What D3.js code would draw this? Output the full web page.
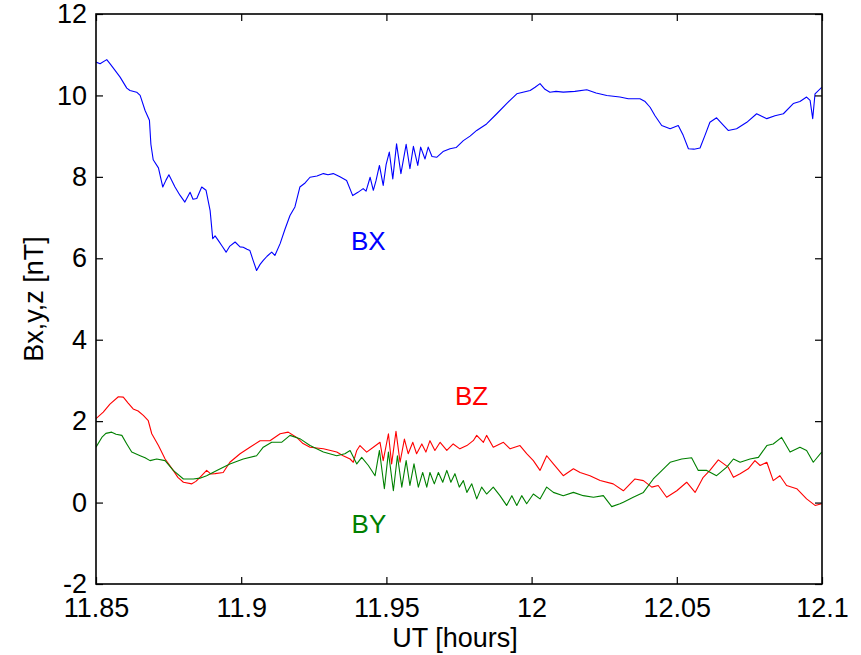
<!DOCTYPE html>
<html>
<head>
<meta charset="utf-8">
<script src="https://cdn.jsdelivr.net/npm/d3@7"></script>
<style>
html,body{margin:0;padding:0;background:#fff;}
svg{display:block;}
text{font-family:"Liberation Sans",Arial,Helvetica,sans-serif;}
</style>
</head>
<body>
<svg id="chart" width="861" height="655"></svg>
<script>
// ---- data (UT hours, nT) ----
const bxTime = [11.8500,11.8514,11.8537,11.8548,11.8565,11.8583,11.8606,11.8617,11.8640,11.8652,11.8669,11.8684,11.8689,11.8697,11.8715,11.8730,11.8741,11.8751,11.8772,11.8789,11.8806,11.8824,11.8834,11.8847,11.8864,11.8879,11.8893,11.8902,11.8910,11.8921,11.8934,11.8948,11.8961,11.8979,11.8996,11.9007,11.9020,11.9030,11.9041,11.9053,11.9065,11.9076,11.9089,11.9105,11.9116,11.9134,11.9151,11.9168,11.9185,11.9202,11.9220,11.9237,11.9261,11.9283,11.9299,11.9317,11.9340,11.9363,11.9384,11.9402,11.9420,11.9430,11.9444,11.9455,11.9464,11.9476,11.9489,11.9499,11.9510,11.9522,11.9535,11.9550,11.9568,11.9581,11.9593,11.9608,11.9618,11.9633,11.9644,11.9657,11.9673,11.9695,11.9719,11.9740,11.9765,11.9788,11.9811,11.9845,11.9880,11.9914,11.9949,11.9970,11.9995,12.0012,12.0029,12.0046,12.0063,12.0084,12.0109,12.0149,12.0190,12.0222,12.0259,12.0304,12.0333,12.0373,12.0391,12.0408,12.0425,12.0448,12.0477,12.0505,12.0522,12.0540,12.0559,12.0580,12.0597,12.0614,12.0637,12.0656,12.0677,12.0706,12.0741,12.0775,12.0810,12.0838,12.0867,12.0901,12.0924,12.0947,12.0959,12.0968,12.0976,12.0999];
const bxValues = [10.82,10.78,10.88,10.78,10.62,10.45,10.18,10.12,10.08,10.00,9.63,9.39,8.80,8.42,8.22,7.75,7.92,8.05,7.75,7.55,7.38,7.62,7.45,7.47,7.75,7.67,7.17,6.48,6.55,6.44,6.30,6.15,6.30,6.40,6.28,6.27,6.22,6.19,5.95,5.70,5.85,5.95,6.05,6.15,6.07,6.36,6.72,7.05,7.26,7.75,7.85,7.99,8.02,8.08,8.05,8.08,8.00,7.91,7.54,7.62,7.71,7.65,7.99,7.67,7.90,8.28,7.79,8.30,8.61,7.95,8.81,8.08,8.80,8.20,8.75,8.28,8.73,8.44,8.73,8.50,8.48,8.62,8.69,8.72,8.89,9.00,9.14,9.30,9.55,9.80,10.04,10.08,10.12,10.20,10.29,10.15,10.08,10.10,10.08,10.10,10.14,10.06,10.00,9.96,9.92,9.92,9.85,9.71,9.50,9.26,9.18,9.26,9.02,8.69,8.68,8.71,9.02,9.34,9.45,9.30,9.14,9.18,9.34,9.55,9.43,9.50,9.55,9.80,9.85,9.96,9.88,9.43,10.04,10.20];

const byTime = [11.8500,11.8520,11.8534,11.8554,11.8569,11.8589,11.8606,11.8623,11.8652,11.8669,11.8686,11.8709,11.8738,11.8766,11.8801,11.8835,11.8858,11.8881,11.8916,11.8961,11.9007,11.9053,11.9076,11.9105,11.9139,11.9168,11.9202,11.9237,11.9283,11.9329,11.9357,11.9375,11.9398,11.9415,11.9438,11.9461,11.9476,11.9493,11.9507,11.9524,11.9538,11.9553,11.9568,11.9581,11.9595,11.9610,11.9625,11.9639,11.9650,11.9665,11.9679,11.9694,11.9708,11.9722,11.9736,11.9751,11.9765,11.9777,11.9794,11.9811,11.9828,11.9845,11.9868,11.9891,11.9914,11.9932,11.9949,11.9966,11.9983,12.0006,12.0029,12.0052,12.0075,12.0109,12.0144,12.0178,12.0213,12.0247,12.0276,12.0304,12.0316,12.0350,12.0385,12.0419,12.0442,12.0477,12.0517,12.0551,12.0574,12.0603,12.0637,12.0672,12.0695,12.0718,12.0752,12.0781,12.0810,12.0832,12.0861,12.0890,12.0924,12.0947,12.0970,12.0999];
const byValues = [1.36,1.60,1.70,1.73,1.68,1.65,1.44,1.24,1.15,1.10,1.03,1.07,1.03,0.79,0.58,0.58,0.60,0.66,0.79,0.95,1.07,1.15,1.36,1.48,1.48,1.65,1.57,1.40,1.24,1.15,1.20,1.28,0.95,1.11,0.91,0.66,1.28,0.34,1.24,0.29,1.15,0.38,1.03,0.42,0.95,0.38,0.74,0.38,0.74,0.46,0.74,0.50,0.79,0.50,0.71,0.38,0.54,0.25,0.46,0.09,0.38,0.21,0.38,0.17,-0.07,0.17,-0.07,0.17,-0.03,0.21,0.09,0.38,0.25,0.17,0.25,0.17,0.13,0.17,-0.10,-0.03,0.01,0.13,0.25,0.58,0.74,0.99,1.07,1.10,0.79,0.79,0.66,0.87,1.07,0.99,1.07,1.11,1.40,1.44,1.60,1.24,1.36,1.28,0.99,1.24];

const bzTime = [11.8500,11.8525,11.8548,11.8577,11.8594,11.8610,11.8628,11.8645,11.8663,11.8680,11.8692,11.8715,11.8738,11.8766,11.8782,11.8801,11.8830,11.8844,11.8858,11.8881,11.8896,11.8910,11.8938,11.8961,11.8996,11.9030,11.9065,11.9099,11.9134,11.9162,11.9191,11.9213,11.9237,11.9283,11.9329,11.9351,11.9375,11.9386,11.9398,11.9409,11.9432,11.9455,11.9478,11.9489,11.9507,11.9518,11.9533,11.9547,11.9562,11.9575,11.9591,11.9604,11.9622,11.9636,11.9650,11.9667,11.9685,11.9708,11.9730,11.9753,11.9777,11.9799,11.9811,11.9834,11.9845,11.9868,11.9903,11.9926,11.9960,11.9983,12.0006,12.0029,12.0052,12.0075,12.0109,12.0144,12.0167,12.0201,12.0236,12.0281,12.0316,12.0356,12.0385,12.0414,12.0436,12.0465,12.0500,12.0534,12.0563,12.0591,12.0614,12.0643,12.0677,12.0695,12.0718,12.0746,12.0769,12.0787,12.0810,12.0832,12.0855,12.0878,12.0913,12.0947,12.0976,12.0999];
const bzValues = [2.06,2.22,2.42,2.60,2.59,2.45,2.30,2.25,2.14,2.01,1.69,1.40,1.07,0.79,0.62,0.50,0.46,0.52,0.62,0.79,0.70,0.71,0.74,0.99,1.20,1.36,1.52,1.52,1.69,1.73,1.60,1.45,1.36,1.32,1.24,1.15,1.07,0.99,1.28,1.40,1.24,1.36,1.48,1.03,1.69,0.95,1.75,0.99,1.56,1.20,1.48,1.20,1.44,1.24,1.52,1.28,1.48,1.28,1.44,1.32,1.40,1.52,1.65,1.48,1.65,1.36,1.48,1.32,1.40,1.20,1.03,0.79,1.15,0.95,0.66,0.83,0.74,0.66,0.54,0.46,0.29,0.58,0.54,0.38,0.42,0.13,0.29,0.50,0.25,0.62,0.79,1.05,0.87,0.62,0.71,0.83,1.03,0.91,0.99,0.54,0.66,0.42,0.34,0.09,-0.07,-0.03];

const xTicks = [11.85, 11.9, 11.95, 12, 12.05, 12.1];
const xTickLabels = ["11.85", "11.9", "11.95", "12", "12.05", "12.1"];
const yTicks = [-2, 0, 2, 4, 6, 8, 10, 12];
const yTickLabels = ["-2", "0", "2", "4", "6", "8", "10", "12"];

const seriesNames = ["BX", "BY", "BZ"];
const seriesColors = ["#0000ff", "#008000", "#ff0000"];
const labelPos = [[11.9378, 6.20], [11.9380, -0.75], [11.9736, 2.40]]; // annotation anchor (t, nT)

// ---- layout ----
const W = 861, H = 655;
const m = {left: 96, right: 39, top: 14, bottom: 71};
const svg = d3.select("#chart");
svg.append("rect").attr("width", W).attr("height", H).attr("fill", "#fff");

const x = d3.scaleLinear().domain([11.85, 12.1]).range([m.left, W - m.right]);
const y = d3.scaleLinear().domain([-2, 12]).range([H - m.bottom, m.top]);

const FS = 27;
const tickLen = 7;

// lines
const series = [
  {t: bxTime, v: bxValues},
  {t: byTime, v: byValues},
  {t: bzTime, v: bzValues}
];
const line = d3.line().x(d => x(d[0])).y(d => y(d[1]));
const drawOrder = [2, 1, 0];
svg.append("clipPath").attr("id", "clip").append("rect")
  .attr("x", m.left).attr("y", m.top).attr("width", W - m.left - m.right).attr("height", H - m.top - m.bottom);
const g = svg.append("g").attr("clip-path", "url(#clip)");
drawOrder.forEach(i => {
  const s = series[i];
  const pts = s.t.map((t, k) => [t, s.v[k]]);
  g.append("path").attr("d", line(pts)).attr("fill", "none")
    .attr("stroke", seriesColors[i]).attr("stroke-width", 1.1).attr("stroke-linejoin", "round");
});

// axes: bottom/top/left/right with inward ticks
const axB = d3.axisBottom(x).tickValues(xTicks).tickFormat((d, i) => xTickLabels[i]).tickSizeInner(-tickLen).tickSizeOuter(0).tickPadding(14);
const axT = d3.axisTop(x).tickValues(xTicks).tickFormat("").tickSizeInner(-tickLen).tickSizeOuter(0);
const axL = d3.axisLeft(y).tickValues(yTicks).tickFormat((d, i) => yTickLabels[i]).tickSizeInner(-tickLen).tickSizeOuter(0).tickPadding(9);
const axR = d3.axisRight(y).tickValues(yTicks).tickFormat("").tickSizeInner(-tickLen).tickSizeOuter(0);

function style(sel) {
  sel.selectAll(".domain").remove();
  sel.selectAll(".tick line").attr("stroke", "#000").attr("stroke-width", 1.2);
  sel.selectAll(".tick text").attr("fill", "#000").style("font-size", FS + "px")
    .style("font-family", '"Liberation Sans",Arial,sans-serif');
}
svg.append("g").attr("transform", `translate(0,${H - m.bottom})`).call(axB).call(style);
svg.append("g").attr("transform", `translate(0,${m.top})`).call(axT).call(style);
svg.append("g").attr("transform", `translate(${m.left},0)`).call(axL).call(style);
svg.append("g").attr("transform", `translate(${W - m.right},0)`).call(axR).call(style);

// box
svg.append("rect").attr("x", m.left).attr("y", m.top)
  .attr("width", W - m.left - m.right).attr("height", H - m.top - m.bottom)
  .attr("fill", "none").attr("stroke", "#000").attr("stroke-width", 1.6);

// series annotations
seriesNames.forEach((n, i) => {
  svg.append("text").attr("x", x(labelPos[i][0])).attr("y", y(labelPos[i][1]))
    .attr("fill", seriesColors[i]).style("font-size", "26px").text(n);
});

// axis titles
svg.append("text").attr("x", (m.left + W - m.right) / 2 - 4).attr("y", 647)
  .attr("text-anchor", "middle").style("font-size", FS + "px").attr("fill", "#000").text("UT [hours]");
svg.append("text").attr("transform", `translate(43,${(m.top + H - m.bottom) / 2}) rotate(-90)`)
  .attr("text-anchor", "middle").style("font-size", FS + "px").attr("fill", "#000").text("Bx,y,z [nT]");
</script>
</body>
</html>
